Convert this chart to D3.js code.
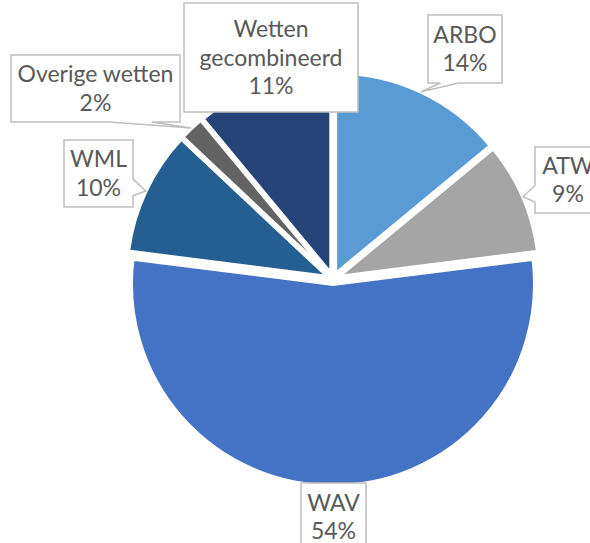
<!DOCTYPE html>
<html>
<head>
<meta charset="utf-8">
<script src="https://d3js.org/d3.v7.min.js"></script>
<style>
  html, body { margin: 0; padding: 0; background: #fff; }
</style>
</head>
<body>
<div id="chart"></div>
<script>
// data
const categories = ["ARBO", "ATW", "WAV", "WML", "Overige wetten", "Wetten gecombineerd"];
const shares = [14, 9, 54, 10, 2, 11];
const pctLabels = ["14%", "9%", "54%", "10%", "2%", "11%"];
const nameLines = [["ARBO"], ["ATW"], ["WAV"], ["WML"], ["Overige wetten"], ["Wetten", "gecombineerd"]];
const colors = ["#5B9BD5", "#A5A5A5", "#4472C4", "#255E91", "#636363", "#264478"];

// label boxes (layout only)
const labelBoxes = [
  { x: 428, y: 15, w: 74, h: 68 },
  { x: 535, y: 147, w: 66, h: 66 },
  { x: 301, y: 483, w: 65, h: 68 },
  { x: 64, y: 140, w: 69, h: 67 },
  { x: 11, y: 55, w: 169, h: 67 },
  { x: 184, y: 3, w: 174, h: 109 }
];

const width = 590, height = 543;
const cx = 333, cy = 279, radius = 202, explode = 5;

const svg = d3.select("#chart").append("svg")
  .attr("width", width)
  .attr("height", height);

svg.append("rect").attr("width", width).attr("height", height).attr("fill", "#fff");

const data = categories.map((c, i) => ({ name: c, value: shares[i], i: i }));

const pie = d3.pie().sort(null).value(d => d.value);
const arcs = pie(data);
const arc = d3.arc().innerRadius(0).outerRadius(radius);

const mid = d => (d.startAngle + d.endAngle) / 2;
const offset = d => [Math.sin(mid(d)) * explode, -Math.cos(mid(d)) * explode];

const g = svg.append("g").attr("transform", `translate(${cx},${cy})`);

g.selectAll("path.slice")
  .data(arcs)
  .enter()
  .append("path")
  .attr("class", "slice")
  .attr("transform", d => `translate(${offset(d)[0]},${offset(d)[1]})`)
  .attr("d", arc)
  .attr("fill", d => colors[d.data.i])
  .attr("stroke", "#fff")
  .attr("stroke-width", 4)
  .attr("stroke-linejoin", "miter");

// callout path like Excel's wedgeRectCallout
function calloutPath(b, ax, ay) {
  const x0 = b.x, y0 = b.y, x1 = b.x + b.w, y1 = b.y + b.h;
  const inside = ax >= x0 && ax <= x1 && ay >= y0 && ay <= y1;
  let side = null, p1, p2;
  if (!inside) {
    const dx = ax - (x0 + b.w / 2), dy = ay - (y0 + b.h / 2);
    const dq = dx * b.h / b.w;
    const xa = x0 + b.w * (dx > 0 ? 7 : 2) / 12, xb = x0 + b.w * (dx > 0 ? 10 : 5) / 12;
    const ya = y0 + b.h * (dy > 0 ? 7 : 2) / 12, yb = y0 + b.h * (dy > 0 ? 10 : 5) / 12;
    if (Math.abs(dy) - Math.abs(dq) > 0) {
      side = dy < 0 ? "top" : "bottom"; p1 = xa; p2 = xb;
    } else {
      side = dx < 0 ? "left" : "right"; p1 = ya; p2 = yb;
    }
  }
  const p = d3.path();
  p.moveTo(x0, y0);
  if (side === "top") { p.lineTo(p1, y0); p.lineTo(ax, ay); p.lineTo(p2, y0); }
  p.lineTo(x1, y0);
  if (side === "right") { p.lineTo(x1, p1); p.lineTo(ax, ay); p.lineTo(x1, p2); }
  p.lineTo(x1, y1);
  if (side === "bottom") { p.lineTo(p2, y1); p.lineTo(ax, ay); p.lineTo(p1, y1); }
  p.lineTo(x0, y1);
  if (side === "left") { p.lineTo(x0, p2); p.lineTo(ax, ay); p.lineTo(x0, p1); }
  p.closePath();
  return p.toString();
}

const labels = svg.append("g");
const lineStep = 28.5;

arcs.forEach(d => {
  const i = d.data.i;
  const b = labelBoxes[i];
  const o = offset(d);
  const ax = cx + o[0] + Math.sin(mid(d)) * radius;
  const ay = cy + o[1] - Math.cos(mid(d)) * radius;

  labels.append("path")
    .attr("d", calloutPath(b, ax, ay))
    .attr("fill", "#fff")
    .attr("stroke", "#BFBFBF")
    .attr("stroke-width", 1.5);

  const lines = nameLines[i].concat([pctLabels[i]]);
  const bx = b.x + b.w / 2, by = b.y + b.h / 2;
  lines.forEach((t, k) => {
    labels.append("text")
      .attr("x", bx)
      .attr("y", by - (lines.length - 1) * lineStep / 2 + k * lineStep + 8)
      .attr("text-anchor", "middle")
      .attr("font-family", "Lato, 'Open Sans', sans-serif")
      .attr("font-size", 23)
      .attr("fill", "#595959")
      .text(t);
  });
});
</script>
</body>
</html>
